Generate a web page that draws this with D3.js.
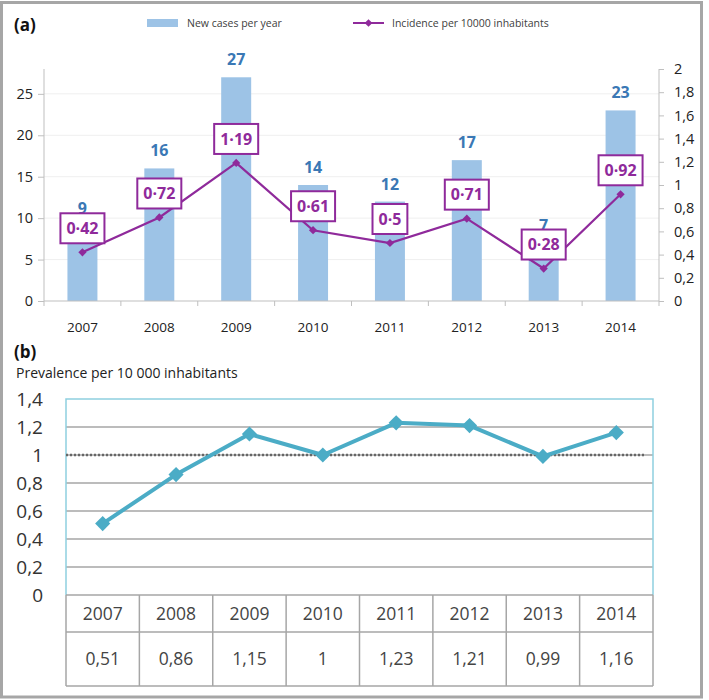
<!DOCTYPE html>
<html>
<head>
<meta charset="utf-8">
<script src="https://cdn.jsdelivr.net/npm/d3@7"></script>
<style>
  html, body { margin: 0; padding: 0; background: #fff; }
  svg { display: block; font-family: "Open Sans", "Noto Sans", sans-serif; }
</style>
</head>
<body>
<svg id="chart" width="709" height="700"></svg>
<script>
// ---------- data ----------
const years = ["2007", "2008", "2009", "2010", "2011", "2012", "2013", "2014"];
const newCases = [9, 16, 27, 14, 12, 17, 7, 23];
const incidence = [0.42, 0.72, 1.19, 0.61, 0.5, 0.71, 0.28, 0.92];
const incidenceLabels = ["0·42", "0·72", "1·19", "0·61", "0·5", "0·71", "0·28", "0·92"];
const prevalence = [0.51, 0.86, 1.15, 1, 1.23, 1.21, 0.99, 1.16];
const prevalenceLabels = ["0,51", "0,86", "1,15", "1", "1,23", "1,21", "0,99", "1,16"];
const leftTicks = [0, 5, 10, 15, 20, 25];
const rightTicks = [0, 0.2, 0.4, 0.6, 0.8, 1, 1.2, 1.4, 1.6, 1.8, 2];
const prevTicks = [0, 0.2, 0.4, 0.6, 0.8, 1, 1.2, 1.4];
const legendLabels = ["New cases per year", "Incidence per 10000 inhabitants"];
const prevTitle = "Prevalence per 10 000 inhabitants";
const refLevel = 1;

// ---------- styles ----------
const barColor = "#9dc3e6";
const barLabelColor = "#3a78b5";
const purple = "#8f2a9b";
const teal = "#4bacc6";
const axisGray = "#bfbfbf";

const locale = d3.formatLocale({ decimal: ",", thousands: " ", grouping: [3], currency: ["", ""] });
const fmt = locale.format("~g");

const svg = d3.select("#chart");

// rotated-square diamond generator
const diamond = (area) => d3.symbol().type(d3.symbolSquare).size(area);

// outer frame
svg.append("rect").attr("x", 1.5).attr("y", 2.5).attr("width", 700).attr("height", 694.5)
  .attr("fill", "none").attr("stroke", "#a6a6a6").attr("stroke-width", 3);

// ================= PANEL (a) =================
const a = svg.append("g");
const xA = d3.scaleBand().domain(years).range([44, 659]).padding(0);
const yL = d3.scaleLinear().domain([0, 28]).range([301, 69]);
const yR = d3.scaleLinear().domain([0, 2]).range([301, 69]);

a.append("text").attr("x", 14).attr("y", 31).attr("font-size", 17).attr("font-weight", "bold")
  .attr("fill", "#111").text("(a)");

// gridlines
a.append("g").selectAll("line").data(leftTicks.filter(d => d > 0)).join("line")
  .attr("x1", 44).attr("x2", 659).attr("y1", d => yL(d)).attr("y2", d => yL(d))
  .attr("stroke", "#efefef").attr("stroke-width", 1);

// bars
a.append("g").selectAll("rect").data(years).join("rect")
  .attr("x", (d) => xA(d) + xA.bandwidth() * 0.305)
  .attr("width", xA.bandwidth() * 0.39)
  .attr("y", (d, i) => yL(newCases[i]))
  .attr("height", (d, i) => yL(0) - yL(newCases[i]))
  .attr("fill", barColor);

// bar labels
a.append("g").selectAll("text").data(years).join("text")
  .attr("x", d => xA(d) + xA.bandwidth() / 2)
  .attr("y", (d, i) => yL(newCases[i]) - 12)
  .attr("text-anchor", "middle").attr("font-size", 16).attr("font-weight", "bold")
  .attr("fill", barLabelColor).text((d, i) => newCases[i]);

// left axis
const leftAxis = a.append("g").attr("transform", "translate(44,0)")
  .call(d3.axisLeft(yL).tickValues(leftTicks).tickSize(6).tickPadding(5).tickFormat(d3.format("d")));
leftAxis.select(".domain").attr("stroke", axisGray).attr("d", `M0,${yL(28)}V${yL(0)}`);
leftAxis.selectAll(".tick line").attr("stroke", axisGray);
leftAxis.selectAll(".tick text").attr("font-size", 14.5).attr("fill", "#222")
  .attr("font-family", "'Open Sans', sans-serif");

// right axis
const rightAxis = a.append("g").attr("transform", "translate(659,0)")
  .call(d3.axisRight(yR).tickValues(rightTicks).tickSize(5).tickPadding(10).tickFormat(fmt));
rightAxis.select(".domain").attr("stroke", axisGray).attr("d", `M0,${yR(2)}V${yR(0)}`);
rightAxis.selectAll(".tick line").attr("stroke", axisGray);
rightAxis.selectAll(".tick text").attr("font-size", 14.5).attr("fill", "#222")
  .attr("font-family", "'Open Sans', sans-serif");

// bottom axis (ticks between categories)
const bottom = a.append("g");
bottom.append("line").attr("x1", 44).attr("x2", 659).attr("y1", yL(0)).attr("y2", yL(0))
  .attr("stroke", axisGray).attr("stroke-width", 1.2);
const bounds = years.map(d => xA(d)).concat([xA.range()[1]]);
bottom.selectAll("line.tk").data(bounds).join("line").attr("class", "tk")
  .attr("x1", d => d).attr("x2", d => d).attr("y1", yL(0)).attr("y2", yL(0) + 5)
  .attr("stroke", axisGray);
bottom.selectAll("text").data(years).join("text")
  .attr("x", d => xA(d) + xA.bandwidth() / 2).attr("y", 332)
  .attr("text-anchor", "middle").attr("font-size", 13.5).attr("fill", "#222").text(d => d);

// incidence line
const lineA = d3.line().x((d, i) => xA(years[i]) + xA.bandwidth() / 2).y(d => yR(d));
a.append("path").datum(incidence).attr("d", lineA).attr("fill", "none")
  .attr("stroke", purple).attr("stroke-width", 2.2);
a.append("g").selectAll("path").data(incidence).join("path")
  .attr("transform", (d, i) => `translate(${xA(years[i]) + xA.bandwidth() / 2},${yR(d)}) rotate(45)`)
  .attr("d", diamond(34)).attr("fill", purple);

// incidence boxes
const boxes = a.append("g").selectAll("g").data(incidence).join("g")
  .attr("transform", (d, i) => `translate(${xA(years[i]) + xA.bandwidth() / 2},${yR(d) - 9 - 15})`);
const boxRects = boxes.append("rect").attr("fill", "#fff").attr("stroke", purple).attr("stroke-width", 2);
const boxTexts = boxes.append("text").attr("text-anchor", "middle").attr("dy", "0.36em")
  .attr("font-size", 16).attr("font-weight", "bold").attr("fill", purple)
  .text((d, i) => incidenceLabels[i]);
boxTexts.each(function (d, i) {
  const w = this.getComputedTextLength() + 12;
  d3.select(boxRects.nodes()[i]).attr("x", -w / 2).attr("y", -15).attr("width", w).attr("height", 30);
});

// legend
const lg = a.append("g");
lg.append("rect").attr("x", 147).attr("y", 19).attr("width", 31).attr("height", 8).attr("fill", barColor);
lg.append("text").attr("x", 187).attr("y", 23).attr("dy", "0.35em").attr("font-size", 10.5)
  .attr("fill", "#404040").text(legendLabels[0]);
lg.append("line").attr("x1", 353).attr("x2", 384).attr("y1", 23).attr("y2", 23)
  .attr("stroke", purple).attr("stroke-width", 2);
lg.append("path").attr("transform", "translate(368.5,23) rotate(45)")
  .attr("d", diamond(30)).attr("fill", purple);
lg.append("text").attr("x", 392).attr("y", 23).attr("dy", "0.35em").attr("font-size", 10.5)
  .attr("fill", "#404040").text(legendLabels[1]);

// ================= PANEL (b) =================
const b = svg.append("g");
const xB = d3.scaleBand().domain(years).range([66, 653]).padding(0);
const yB = d3.scaleLinear().domain([0, 1.4]).range([595, 399]);

b.append("text").attr("x", 14).attr("y", 358).attr("font-size", 17).attr("font-weight", "bold")
  .attr("fill", "#111").text("(b)");
b.append("text").attr("x", 16).attr("y", 373).attr("dy", "0.35em").attr("font-size", 14)
  .attr("fill", "#222").text(prevTitle);

// gridlines
b.append("g").selectAll("line").data(prevTicks.filter(d => d > 0 && d < 1.4)).join("line")
  .attr("x1", 66).attr("x2", 653).attr("y1", d => yB(d)).attr("y2", d => yB(d))
  .attr("stroke", "#a6a6a6").attr("stroke-width", 1.5);

// plot border (light blue)
b.append("path")
  .attr("d", `M66,${yB(0)}V${yB(1.4)}H653V${yB(0)}`)
  .attr("fill", "none").attr("stroke", "#8fcfe0").attr("stroke-width", 1.5);

// reference dotted line
b.append("line").attr("x1", 66).attr("x2", 645).attr("y1", yB(refLevel)).attr("y2", yB(refLevel))
  .attr("stroke", "#666").attr("stroke-width", 2.5).attr("stroke-dasharray", "2,2");

// y labels
b.append("g").selectAll("text").data(prevTicks).join("text")
  .attr("x", 43).attr("y", d => yB(d)).attr("dy", "0.35em").attr("text-anchor", "end")
  .attr("font-size", 19).attr("fill", "#333").text(d => fmt(d));

// prevalence line
const lineB = d3.line().x((d, i) => xB(years[i]) + xB.bandwidth() / 2).y(d => yB(d));
b.append("path").datum(prevalence).attr("d", lineB).attr("fill", "none")
  .attr("stroke", teal).attr("stroke-width", 4).attr("stroke-linejoin", "round");
b.append("g").selectAll("path").data(prevalence).join("path")
  .attr("transform", (d, i) => `translate(${xB(years[i]) + xB.bandwidth() / 2},${yB(d)}) rotate(45)`)
  .attr("d", diamond(115)).attr("fill", teal);

// data table
const tblTop = yB(0), tblMid = 632, tblBot = 686;
const tbl = b.append("g");
const tblStroke = "#a6a6a6";
tbl.selectAll("line.v").data(years.map(d => xB(d)).concat([xB.range()[1]])).join("line").attr("class", "v")
  .attr("x1", d => d).attr("x2", d => d).attr("y1", tblTop).attr("y2", tblBot)
  .attr("stroke", tblStroke).attr("stroke-width", 1.5);
[tblTop, tblMid, tblBot].forEach(yv => {
  tbl.append("line").attr("x1", 66).attr("x2", 653).attr("y1", yv).attr("y2", yv)
    .attr("stroke", tblStroke).attr("stroke-width", 1.5);
});
tbl.selectAll("text.yr").data(years).join("text").attr("class", "yr")
  .attr("x", d => xB(d) + xB.bandwidth() / 2).attr("y", (tblTop + tblMid) / 2).attr("dy", "0.35em")
  .attr("text-anchor", "middle").attr("font-size", 17.5).attr("fill", "#444").text(d => d);
tbl.selectAll("text.val").data(prevalenceLabels).join("text").attr("class", "val")
  .attr("x", (d, i) => xB(years[i]) + xB.bandwidth() / 2).attr("y", (tblMid + tblBot) / 2).attr("dy", "0.35em")
  .attr("text-anchor", "middle").attr("font-size", 17.5).attr("fill", "#444").text(d => d);
</script>
</body>
</html>
